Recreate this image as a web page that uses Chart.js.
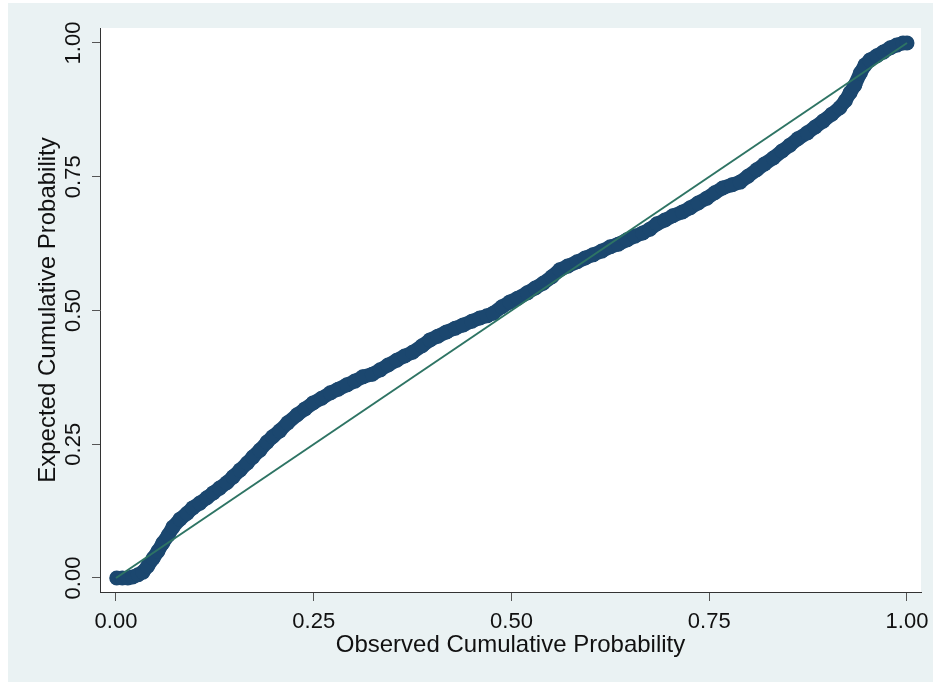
<!DOCTYPE html>
<html>
<head>
<meta charset="utf-8">
<script src="https://cdn.jsdelivr.net/npm/chart.js@4/dist/chart.umd.min.js"></script>
<style>
  html, body { margin: 0; padding: 0; background: #ffffff; }
  #wrap { width: 937px; height: 682px; position: relative; }
</style>
</head>
<body>
<div id="wrap"><canvas id="chart" width="937" height="682"></canvas></div>
<script>
// observed cumulative probability (x) vs expected cumulative probability (y)
const observedP = [
  0.001, 0.008, 0.015, 0.021, 0.028, 0.034, 0.040, 0.047, 0.053, 0.059,
  0.066, 0.072, 0.081, 0.090, 0.097, 0.106, 0.115, 0.123, 0.131, 0.140,
  0.148, 0.157, 0.166, 0.173, 0.182, 0.191, 0.198, 0.207, 0.217, 0.229,
  0.239, 0.249, 0.260, 0.271, 0.281, 0.292, 0.302, 0.312, 0.324, 0.334,
  0.344, 0.355, 0.365, 0.375, 0.387, 0.397, 0.407, 0.418, 0.429, 0.439,
  0.450, 0.460, 0.469, 0.477, 0.488, 0.498, 0.508, 0.520, 0.530, 0.540,
  0.551, 0.561, 0.571, 0.583, 0.593, 0.603, 0.614, 0.625, 0.635, 0.646,
  0.656, 0.666, 0.675, 0.684, 0.694, 0.704, 0.716, 0.726, 0.736, 0.747,
  0.757, 0.767, 0.779, 0.789, 0.799, 0.810, 0.820, 0.831, 0.842, 0.852,
  0.862, 0.874, 0.884, 0.894, 0.905, 0.915, 0.922, 0.928, 0.934, 0.941,
  0.947, 0.953, 0.962, 0.970, 0.979, 0.987, 0.995, 1.000
];
const expectedP = [
  0.000, 0.000, 0.000, 0.002, 0.006, 0.011, 0.022, 0.037, 0.050, 0.065,
  0.080, 0.095, 0.110, 0.121, 0.131, 0.140, 0.150, 0.159, 0.168, 0.178,
  0.189, 0.202, 0.215, 0.226, 0.239, 0.254, 0.264, 0.275, 0.290, 0.305,
  0.316, 0.327, 0.336, 0.346, 0.353, 0.361, 0.368, 0.376, 0.381, 0.389,
  0.398, 0.407, 0.415, 0.422, 0.434, 0.445, 0.452, 0.460, 0.467, 0.473,
  0.480, 0.486, 0.490, 0.495, 0.507, 0.516, 0.523, 0.533, 0.542, 0.551,
  0.563, 0.576, 0.583, 0.591, 0.598, 0.604, 0.611, 0.619, 0.624, 0.632,
  0.639, 0.645, 0.652, 0.662, 0.669, 0.677, 0.684, 0.692, 0.701, 0.710,
  0.720, 0.729, 0.735, 0.740, 0.751, 0.763, 0.774, 0.785, 0.798, 0.809,
  0.821, 0.832, 0.843, 0.854, 0.867, 0.879, 0.892, 0.907, 0.921, 0.944,
  0.959, 0.968, 0.976, 0.983, 0.991, 0.996, 1.000, 1.000
];
// 45 degree reference line
const refX = [0, 1];
const refY = [0, 1];
const tickValues = [0, 0.25, 0.5, 0.75, 1];

const navy = "#1b476f";
const teal = "#2e7464";
const fontFamily = "'Liberation Sans', Arial, sans-serif";

document.addEventListener("DOMContentLoaded", function () {
  const ctx = document.getElementById("chart");

  const backgroundPlugin = {
    id: "stataBackground",
    beforeDraw(chart) {
      const c = chart.ctx;
      const area = chart.chartArea;
      c.save();
      c.fillStyle = "#ffffff";
      c.fillRect(0, 0, chart.width, chart.height);
      c.fillStyle = "#eaf2f3";
      c.fillRect(8, 3, chart.width - 12, chart.height - 3);
      c.fillStyle = "#ffffff";
      c.fillRect(area.left, area.top, area.right - area.left, area.bottom - area.top);
      c.restore();
    },
  };

  new Chart(ctx, {
    type: "scatter",
    data: {
      datasets: [
        {
          label: "reference",
          data: refX.map((x, i) => ({ x: x, y: refY[i] })),
          showLine: true,
          borderColor: teal,
          borderWidth: 2,
          pointRadius: 0,
          order: 0,
        },
        {
          label: "pp",
          data: observedP.map((x, i) => ({ x: x, y: expectedP[i] })),
          showLine: true,
          borderColor: navy,
          backgroundColor: navy,
          borderWidth: 14,
          borderCapStyle: "round",
          borderJoinStyle: "round",
          pointRadius: 7.5,
          pointBorderWidth: 0,
          pointBackgroundColor: navy,
          order: 1,
        },
      ],
    },
    options: {
      responsive: false,
      animation: false,
      events: [],
      layout: { padding: { left: 0, top: 28, right: 16, bottom: 0 } },
      plugins: {
        legend: { display: false },
        tooltip: { enabled: false },
      },
      scales: {
        x: {
          type: "linear",
          min: -0.0202,
          max: 1.0177,
          afterFit: (scale) => { scale.height = 90; },
          afterBuildTicks: (scale) => { scale.ticks = tickValues.map((v) => ({ value: v })); },
          grid: { drawOnChartArea: false, tickLength: 9, tickColor: "#555555", tickWidth: 1 },
          border: { display: true, color: "#333333", width: 1 },
          ticks: {
            color: "#111111",
            font: { family: fontFamily, size: 22 },
            padding: 8,
            maxRotation: 0,
            callback: (v) => v.toFixed(2),
          },
          title: {
            display: true,
            text: "Observed Cumulative Probability",
            color: "#111111",
            font: { family: fontFamily, size: 24 },
            padding: { top: 0, bottom: 22 },
          },
        },
        y: {
          type: "linear",
          min: -0.0262,
          max: 1.028,
          afterFit: (scale) => { scale.width = 100; },
          afterBuildTicks: (scale) => { scale.ticks = tickValues.map((v) => ({ value: v })); },
          grid: { drawOnChartArea: false, tickLength: 8, tickColor: "#555555", tickWidth: 1 },
          border: { display: true, color: "#333333", width: 1 },
          ticks: {
            color: "#111111",
            font: { family: fontFamily, size: 22 },
            padding: -3,
            minRotation: 90,
            maxRotation: 90,
            crossAlign: "center",
            callback: (v) => v.toFixed(2),
          },
          title: {
            display: true,
            text: "Expected Cumulative Probability",
            color: "#111111",
            font: { family: fontFamily, size: 24 },
            padding: { top: 34, bottom: 0 },
          },
        },
      },
    },
    plugins: [backgroundPlugin],
  });
});
</script>
</body>
</html>
